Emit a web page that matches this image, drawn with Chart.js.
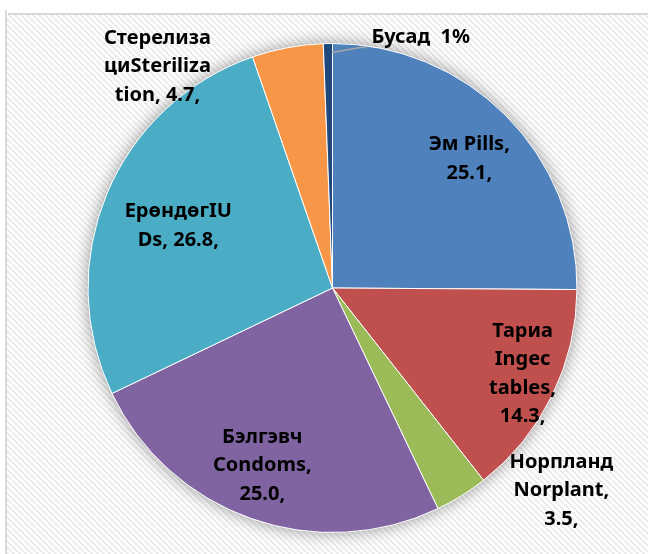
<!DOCTYPE html>
<html>
<head>
<meta charset="utf-8">
<script src="https://cdn.jsdelivr.net/npm/chart.js@4.4.0/dist/chart.umd.min.js"></script>
<style>
  html, body { margin: 0; padding: 0; background: #fff; }
  #wrap { width: 648px; height: 554px; }
</style>
</head>
<body>
<div id="wrap"><canvas id="pie" width="648" height="554"></canvas></div>
<script>
  const categories = ["Эм Pills", "Тариа Ingectables", "Норпланд Norplant", "Бэлгэвч Condoms", "ЕрөндөгIUDs", "Стерелизаци Sterilization", "Бусад"];
  const values = [25.1, 14.3, 3.5, 25.0, 26.8, 4.7, 0.6];
  const colors = ["#4f81bd", "#c0504d", "#9bbb59", "#8064a2", "#4bacc6", "#f79646", "#1f497d"];

  // label text, wrapped the same way as the picture
  const labelLines = [
    ["Эм Pills,", "25.1,"],
    ["Тариа", "Ingec", "tables,", "14.3,"],
    ["Норпланд", "Norplant,", "3.5,"],
    ["Бэлгэвч", "Condoms,", "25.0,"],
    ["ЕрөндөгIU", "Ds, 26.8,"],
    ["Стерелиза", "циSteriliza", "tion, 4.7,"],
    ["Бусад  1%"]
  ];
  // where each label sits: angle from 12 o'clock (deg), distance as share of radius
  const labelPlace = [
    [46.6, 0.77], [114.3, 0.853], [131.5, 1.25], [201.6, 0.78],
    [291.9, 0.68], [321.7, 1.155], [19.4, 1.086]
  ];

  function stripes() {
    const c = document.createElement("canvas");
    c.width = 6; c.height = 6;
    const g = c.getContext("2d");
    g.fillStyle = "#ffffff";
    g.fillRect(0, 0, 6, 6);
    g.strokeStyle = "#ebebeb";
    g.lineWidth = 2;
    for (let k = -6; k <= 6; k += 6) {
      g.beginPath();
      g.moveTo(k, 0);
      g.lineTo(k + 6, 6);
      g.stroke();
    }
    return c;
  }

  const backdrop = {
    id: "backdrop",
    beforeDraw(chart) {
      const ctx = chart.ctx;
      ctx.save();
      ctx.fillStyle = "#fff";
      ctx.fillRect(0, 0, chart.width, chart.height);
      ctx.fillStyle = ctx.createPattern(stripes(), "repeat");
      ctx.fillRect(7, 14, chart.width - 7, chart.height - 14);
      ctx.fillStyle = "#d9d9d9";
      ctx.fillRect(5, 10, 2, chart.height - 10);
      ctx.fillRect(8, 13, chart.width - 8, 2);
      ctx.restore();
    },
    beforeDatasetsDraw(chart) {
      const arc = chart.getDatasetMeta(0).data[0];
      if (!arc) return;
      const ctx = chart.ctx;
      ctx.save();
      ctx.shadowColor = "rgba(0,0,0,0.4)";
      ctx.shadowBlur = 16;
      ctx.fillStyle = "#ffffff";
      ctx.beginPath();
      ctx.arc(arc.x, arc.y, arc.outerRadius, 0, Math.PI * 2);
      ctx.fill();
      ctx.restore();
    }
  };

  const sliceLabels = {
    id: "sliceLabels",
    afterDatasetsDraw(chart) {
      const meta = chart.getDatasetMeta(0);
      const ctx = chart.ctx;
      const lineH = 28.5;
      ctx.save();
      ctx.font = "bold 20px 'Noto Sans', 'Open Sans', sans-serif";
      ctx.fillStyle = "#000";
      ctx.textAlign = "center";
      ctx.textBaseline = "middle";
      meta.data.forEach((arc, i) => {
        const [deg, frac] = labelPlace[i];
        const a = deg * Math.PI / 180 - Math.PI / 2;
        const r = arc.outerRadius * frac;
        const x = arc.x + Math.cos(a) * r;
        const y = arc.y + Math.sin(a) * r;
        const lines = labelLines[i];
        const top = y - (lines.length - 1) * lineH / 2;
        lines.forEach((t, j) => ctx.fillText(t, x, top + j * lineH));

        if (i === values.length - 1) {
          // leader line from the thin slice to its label
          const mid = (arc.startAngle + arc.endAngle) / 2;
          const sx = arc.x + Math.cos(mid) * arc.outerRadius * 0.98;
          const sy = arc.y + Math.sin(mid) * arc.outerRadius * 0.98;
          const w = ctx.measureText(lines[0]).width;
          const ex = x - w / 2 - 5;
          ctx.strokeStyle = "#a6a6a6";
          ctx.lineWidth = 1.5;
          ctx.beginPath();
          ctx.moveTo(sx + 4, sy + 4);
          ctx.lineTo(ex - 6, y + 10);
          ctx.lineTo(ex, y + 10);
          ctx.stroke();
        }
      });
      ctx.restore();
    }
  };

  new Chart(document.getElementById("pie"), {
    type: "pie",
    data: {
      labels: categories,
      datasets: [{
        data: values,
        backgroundColor: colors,
        borderColor: "#ffffff",
        borderWidth: 1
      }]
    },
    options: {
      responsive: false,
      animation: false,
      layout: { padding: { left: 87, right: 70, top: 43, bottom: 21 } },
      plugins: {
        legend: { display: false },
        tooltip: { enabled: false }
      }
    },
    plugins: [backdrop, sliceLabels]
  });
</script>
</body>
</html>
